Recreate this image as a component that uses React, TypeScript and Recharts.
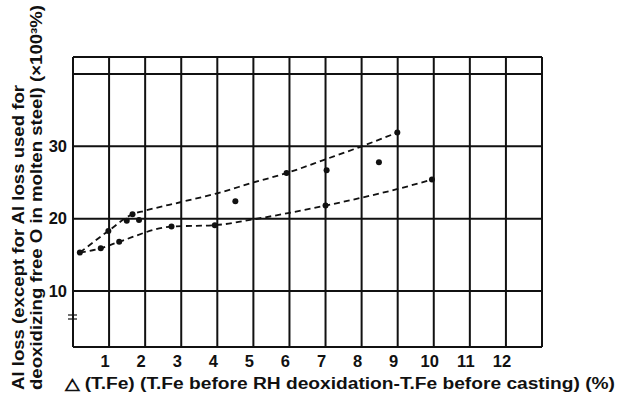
import React from 'react';
import {
  ComposedChart,
  Line,
  Scatter,
  XAxis,
  YAxis,
  CartesianGrid,
  ReferenceLine,
} from 'recharts';

// Measured points
const pointX = [0.19, 0.77, 0.98, 1.28, 1.49, 1.65, 1.83, 2.73, 3.93, 4.5, 5.92, 7.03, 7.0, 8.99, 8.48, 9.95];
const pointY = [15.3, 15.9, 18.3, 16.8, 19.7, 20.6, 19.8, 18.9, 19.1, 22.4, 26.3, 26.7, 21.8, 31.9, 27.8, 25.4];

// Upper dashed trend curve
const upperX = [0.19, 0.98, 1.65, 2, 3, 4, 5, 5.92, 7, 7.95, 8.99];
const upperY = [15.3, 18.3, 20.6, 21.1, 22.3, 23.5, 25.0, 26.3, 28.2, 29.9, 31.9];

// Lower dashed trend curve
const lowerX = [0.19, 0.77, 1.28, 2.73, 3.93, 5, 6, 7.0, 8, 9, 9.95];
const lowerY = [15.3, 15.9, 16.8, 18.9, 19.1, 19.9, 20.8, 21.8, 22.9, 24.1, 25.4];

const xTicks = [1, 2, 3, 4, 5, 6, 7, 8, 9, 10, 11, 12];
const yTicks = [10, 20, 30, 40];
const yTickLabels = ['10', '20', '30', ''];

const xDomain = [0, 13];
const yDomain = [2.25, 42.35];

const xLabel = '\u25B3 (T.Fe) (T.Fe before RH deoxidation-T.Fe before casting) (%)';
const yLabel1 = 'Al loss  (except for Al loss used for';
const yLabel2 = 'deoxidizing free O in molten steel)  (\u00D7100\u00B3%)';

const points = pointX.map((x, i) => ({ x, y: pointY[i] }));
const upper = upperX.map((x, i) => ({ x, y: upperY[i] }));
const lower = lowerX.map((x, i) => ({ x, y: lowerY[i] }));

const INK = '#111';
const FONT = '"Liberation Sans", Arial, sans-serif';

const Dot = (props: any) => {
  const { cx, cy } = props;
  if (cx == null || cy == null) return null;
  return <circle cx={cx} cy={cy} r={3} fill={INK} />;
};

export default function App() {
  return (
    <div style={{ position: 'absolute', left: 0, top: 0, width: 624, height: 398, background: '#fff' }}>
      <ComposedChart
        width={624}
        height={398}
        margin={{ top: 57, right: 82, bottom: 21, left: 13 }}
        style={{ position: 'absolute', left: 0, top: 0 }}
      >
        <CartesianGrid stroke={INK} strokeWidth={2} />
        <XAxis
          type="number"
          dataKey="x"
          domain={xDomain}
          ticks={xTicks}
          allowDataOverflow
          height={30}
          tickLine={false}
          tickMargin={2}
          axisLine={{ stroke: INK, strokeWidth: 2 }}
          tick={{ fill: INK, fontSize: 16.5, fontFamily: FONT, fontWeight: 'bold', dx: -4 }}
        />
        <YAxis
          type="number"
          dataKey="y"
          domain={yDomain}
          ticks={yTicks}
          allowDataOverflow
          width={60}
          tickLine={false}
          tickMargin={0}
          axisLine={{ stroke: INK, strokeWidth: 2 }}
          tickFormatter={(v: number) => yTickLabels[yTicks.indexOf(v)] ?? ''}
          tick={{ fill: INK, fontSize: 16.5, fontFamily: FONT, fontWeight: 'bold' }}
        />
        <ReferenceLine x={13} stroke={INK} strokeWidth={2} />
        <ReferenceLine y={42.35} stroke={INK} strokeWidth={2} />
        <Line
          data={upper}
          dataKey="y"
          type="monotone"
          stroke={INK}
          strokeWidth={1.8}
          strokeDasharray="6 4"
          dot={false}
          activeDot={false}
          isAnimationActive={false}
        />
        <Line
          data={lower}
          dataKey="y"
          type="monotone"
          stroke={INK}
          strokeWidth={1.8}
          strokeDasharray="6 4"
          dot={false}
          activeDot={false}
          isAnimationActive={false}
        />
        <Scatter data={points} dataKey="y" shape={<Dot />} isAnimationActive={false} />
      </ComposedChart>
      <svg
        width={624}
        height={398}
        style={{ position: 'absolute', left: 0, top: 0, pointerEvents: 'none' }}
      >
        <text
          x={65}
          y={389}
          fontSize={16}
          fontFamily={FONT}
          fontWeight="bold"
          fill={INK}
          textLength={550}
          lengthAdjust="spacingAndGlyphs"
        >
          {xLabel}
        </text>
        <text
          transform="translate(24,390) rotate(-90)"
          fontSize={16}
          fontFamily={FONT}
          fontWeight="bold"
          fill={INK}
          textLength={305}
          lengthAdjust="spacingAndGlyphs"
        >
          {yLabel1}
        </text>
        <text
          transform="translate(42,390) rotate(-90)"
          fontSize={16}
          fontFamily={FONT}
          fontWeight="bold"
          fill={INK}
          textLength={385}
          lengthAdjust="spacingAndGlyphs"
        >
          {yLabel2}
        </text>
        <line x1={68} x2={77} y1={315} y2={315} stroke={INK} strokeWidth={1.2} />
        <line x1={68} x2={77} y1={319} y2={319} stroke={INK} strokeWidth={1.2} />
      </svg>
    </div>
  );
}
